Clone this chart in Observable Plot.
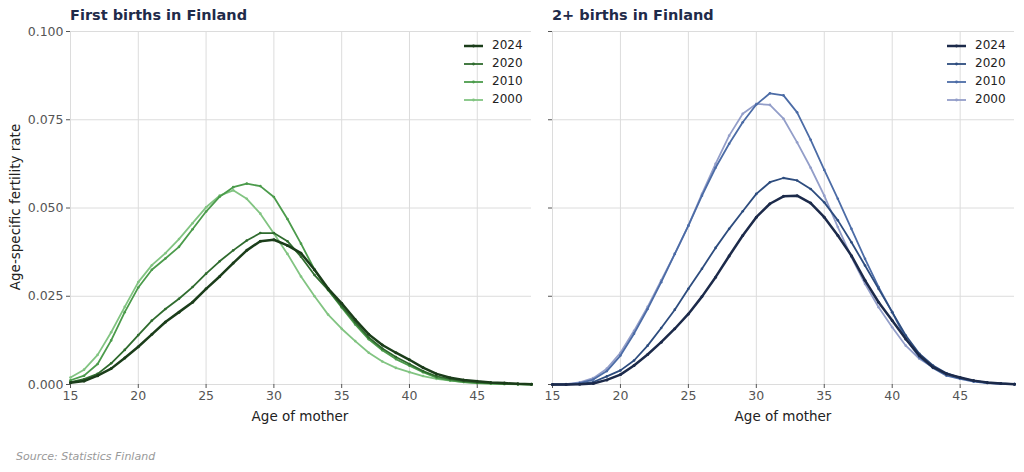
<!DOCTYPE html>
<html>
<head>
<meta charset="utf-8">
<script src="https://cdn.jsdelivr.net/npm/d3@7"></script>
<script src="https://cdn.jsdelivr.net/npm/@observablehq/plot@0.6"></script>
<style>
  body { margin: 0; background: #fff; }
  #wrap { position: relative; width: 1024px; height: 472px; background: #fff; font-family: "DejaVu Sans", sans-serif; overflow: hidden; }
  .title { position: absolute; top: 7px; font-weight: bold; font-size: 14.5px; color: #1f2b4a; white-space: nowrap; }
  .xlabel { position: absolute; top: 408px; font-size: 13.5px; color: #222; transform: translateX(-50%); white-space: nowrap; }
  .ylabel { position: absolute; left: 15px; top: 207px; font-size: 13.5px; color: #222; transform: translate(-50%, -50%) rotate(-90deg); white-space: nowrap; }
  .source { position: absolute; left: 16px; top: 450px; font-size: 11px; font-style: italic; color: #999; }
  .legend { position: absolute; font-size: 12px; color: #222; }
  .legend .row { position: absolute; left: 0; height: 18px; white-space: nowrap; }
  .legend svg { position: absolute; left: 0; top: 0; }
  .legend span { position: absolute; left: 29px; top: 1px; }
  .plot { position: absolute; top: 0; }
</style>
</head>
<body>
<div id="wrap"></div>
<script>
const ages = d3.range(15, 50);
const years = [2000, 2010, 2020, 2024];

const first2000 = [0.002,0.0042,0.0084,0.0148,0.022,0.029,0.0338,0.0372,0.0412,0.0457,0.0502,0.0535,0.055,0.0526,0.0484,0.0428,0.037,0.0306,0.025,0.0198,0.0158,0.0123,0.009,0.0065,0.0047,0.0035,0.0024,0.0016,0.0011,0.0007,0.0004,0.0002,0.0001,0.00005,0];
const first2010 = [0.0012,0.0025,0.0058,0.0125,0.0205,0.0275,0.0325,0.0357,0.039,0.044,0.049,0.0532,0.0559,0.0569,0.0562,0.0531,0.0469,0.0399,0.0325,0.0268,0.0218,0.017,0.0128,0.0097,0.0072,0.0053,0.0035,0.0019,0.0012,0.0007,0.0004,0.0003,0.0002,0.0001,0];
const first2020 = [0.0007,0.0015,0.003,0.006,0.0098,0.014,0.0181,0.0214,0.0243,0.0276,0.0314,0.0349,0.038,0.0408,0.0429,0.0429,0.0406,0.0362,0.031,0.0268,0.0222,0.0176,0.0133,0.0102,0.0078,0.0058,0.0038,0.0023,0.0015,0.0009,0.0006,0.0004,0.0002,0.0001,0.0001];
const first2024 = [0.0005,0.001,0.0025,0.0045,0.0075,0.0107,0.0142,0.0177,0.0205,0.0233,0.0271,0.0306,0.0344,0.038,0.0406,0.041,0.0394,0.0372,0.0325,0.0272,0.023,0.0184,0.0142,0.0112,0.009,0.007,0.0048,0.003,0.0019,0.0013,0.0009,0.0006,0.0004,0.0002,0.0001];

const second2000 = [0,0.0001,0.0006,0.0018,0.0045,0.009,0.0152,0.022,0.0295,0.037,0.045,0.054,0.0625,0.0705,0.0767,0.0795,0.0792,0.0753,0.0686,0.0614,0.0535,0.0446,0.0361,0.0285,0.0219,0.0162,0.011,0.0073,0.0049,0.003,0.0018,0.001,0.0005,0.0002,0.0001];
const second2010 = [0,0,0.0004,0.0014,0.0038,0.0082,0.0144,0.0214,0.029,0.037,0.045,0.0535,0.0614,0.0682,0.0743,0.0793,0.0825,0.0819,0.0771,0.0693,0.0608,0.0526,0.0441,0.0356,0.0276,0.0205,0.0129,0.0077,0.0047,0.0025,0.0016,0.0008,0.0004,0.0002,0.0001];
const second2020 = [0,0,0.0002,0.0007,0.0023,0.004,0.0068,0.011,0.016,0.0212,0.0271,0.0328,0.0387,0.0441,0.0491,0.054,0.0573,0.0585,0.0578,0.0554,0.0516,0.0465,0.0403,0.0337,0.0271,0.0205,0.0139,0.0087,0.0054,0.0032,0.0019,0.001,0.0005,0.0003,0.0001];
const second2024 = [0,0,0.0001,0.0003,0.0013,0.0028,0.0054,0.0085,0.012,0.0158,0.02,0.0249,0.0304,0.0364,0.0422,0.0474,0.0512,0.0533,0.0535,0.0514,0.0474,0.0422,0.0365,0.0295,0.0233,0.0181,0.0129,0.0082,0.0049,0.003,0.002,0.0011,0.0006,0.0003,0.0001];

const xTicks = [15, 20, 25, 30, 35, 40, 45];
const yTicks = [0, 0.025, 0.05, 0.075, 0.1];
const legendOrder = [2024, 2020, 2010, 2000];

const greens = {2024: "#1b3d1a", 2020: "#2f6b2e", 2010: "#4b9b4b", 2000: "#82c482"};
const blues  = {2024: "#1c2a4a", 2020: "#2d4c7e", 2010: "#4c6ca6", 2000: "#939ec9"};

const firstSeries = {2000: first2000, 2010: first2010, 2020: first2020, 2024: first2024};
const secondSeries = {2000: second2000, 2010: second2010, 2020: second2020, 2024: second2024};

function toRows(series) {
  const rows = [];
  for (const y of years) series[y].forEach((v, i) => rows.push({year: y, age: ages[i], value: v}));
  return rows;
}

function makePlot(series, colors, opts) {
  const rows = toRows(series);
  const marks = [
    Plot.gridX(xTicks, {stroke: "#dcdcdc", strokeOpacity: 1, strokeWidth: 1}),
    Plot.gridY(yTicks, {stroke: "#dcdcdc", strokeOpacity: 1, strokeWidth: 1}),
    Plot.axisX(xTicks, {tickSize: 4, tickPadding: 3, stroke: "#555", fill: "#555", fontSize: 12.5, label: null}),
    opts.showY
      ? Plot.axisY(yTicks, {tickSize: 4, tickPadding: 3, stroke: "#555", fill: "#555", fontSize: 12.5, tickFormat: d3.format(".3f"), label: null})
      : Plot.axisY(yTicks, {tickSize: 4, tickPadding: 3, stroke: "#555", tickFormat: () => "", label: null})
  ];
  for (const y of years) {
    const data = rows.filter(d => d.year === y);
    marks.push(Plot.line(data, {x: "age", y: "value", stroke: colors[y], strokeWidth: y === 2024 ? 2.5 : 1.8}));
    marks.push(Plot.dot(data, {x: "age", y: "value", fill: colors[y], r: y === 2024 ? 1.5 : 1.3}));
  }
  return Plot.plot({
    width: opts.width, height: 430,
    marginLeft: opts.ml, marginRight: opts.mr, marginTop: 31, marginBottom: 46,
    x: {domain: [15, 49]},
    y: {domain: [0, 0.1]},
    style: {fontFamily: "DejaVu Sans, sans-serif", fontSize: "12.5px", background: "transparent"},
    marks
  });
}

const wrap = document.getElementById("wrap");

function addPlot(el, left) {
  el.classList.add("plot");
  el.style.left = left + "px";
  wrap.appendChild(el);
}

addPlot(makePlot(firstSeries, greens, {width: 540, ml: 70, mr: 9, showY: true}), 0);
addPlot(makePlot(secondSeries, blues, {width: 484, ml: 12, mr: 10, showY: false}), 540);

function addDiv(cls, text, style) {
  const d = document.createElement("div");
  d.className = cls;
  d.textContent = text;
  Object.assign(d.style, style || {});
  wrap.appendChild(d);
  return d;
}

addDiv("title", "First births in Finland", {left: "70px"});
addDiv("title", "2+ births in Finland", {left: "552px"});
addDiv("xlabel", "Age of mother", {left: "300px"});
addDiv("xlabel", "Age of mother", {left: "783px"});
addDiv("ylabel", "Age-specific fertility rate");
addDiv("source", "Source: Statistics Finland");

function addLegend(left, top, colors) {
  const lg = document.createElement("div");
  lg.className = "legend";
  lg.style.left = left + "px";
  lg.style.top = top + "px";
  legendOrder.forEach((y, i) => {
    const row = document.createElement("div");
    row.className = "row";
    row.style.top = (i * 18) + "px";
    const w = y === 2024 ? 2.5 : 1.8;
    row.innerHTML = `<svg width="22" height="18"><line x1="1" x2="20" y1="9" y2="9" stroke="${colors[y]}" stroke-width="${w}"/><circle cx="10.5" cy="9" r="1.4" fill="${colors[y]}"/></svg><span>${y}</span>`;
    lg.appendChild(row);
  });
  wrap.appendChild(lg);
}
addLegend(463, 37, greens);
addLegend(946, 37, blues);
</script>
</body>
</html>
